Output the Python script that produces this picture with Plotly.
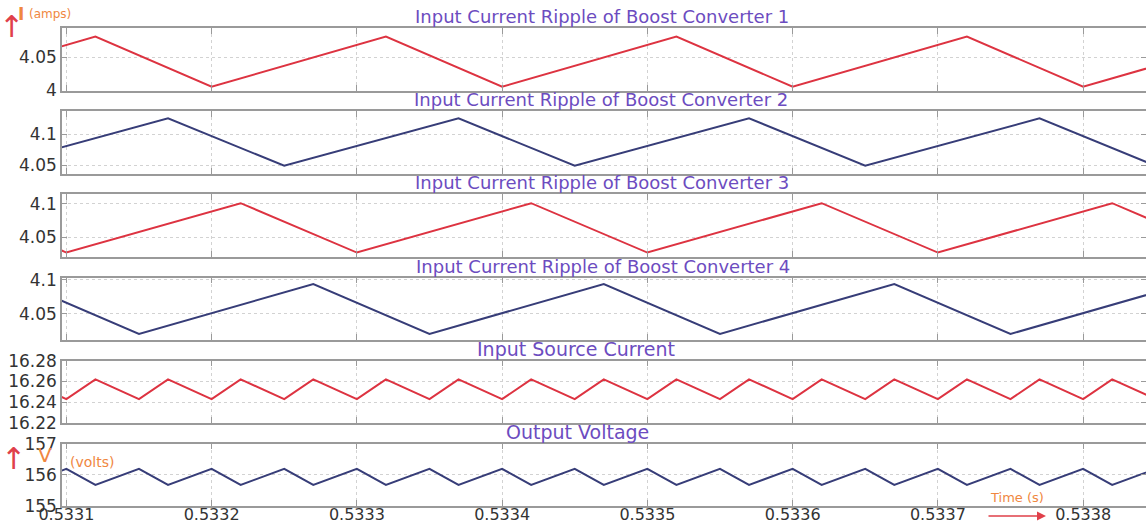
import plotly.graph_objects as go
from plotly.subplots import make_subplots

# ---------------- data ----------------
titles = [
    "Input Current Ripple of Boost Converter 1",
    "Input Current Ripple of Boost Converter 2",
    "Input Current Ripple of Boost Converter 3",
    "Input Current Ripple of Boost Converter 4",
    "Input Source Current",
    "Output Voltage",
]

# converter 1 (vertices: trough / peak)
t_c1 = [0.53300, 0.53312, 0.53320, 0.53332, 0.53340, 0.53352, 0.53360, 0.53372, 0.53380, 0.53392]
i_c1 = [4.005, 4.081, 4.005, 4.081, 4.005, 4.081, 4.005, 4.081, 4.005, 4.081]

# converter 2
t_c2 = [0.53305, 0.53317, 0.53325, 0.53337, 0.53345, 0.53357, 0.53365, 0.53377, 0.53385]
i_c2 = [4.0495, 4.125, 4.0495, 4.125, 4.0495, 4.125, 4.0495, 4.125, 4.0495]

# converter 3
t_c3 = [0.53302, 0.53310, 0.53322, 0.53330, 0.53342, 0.53350, 0.53362, 0.53370, 0.53382, 0.53390]
i_c3 = [4.101, 4.0275, 4.101, 4.0275, 4.101, 4.0275, 4.101, 4.0275, 4.101, 4.0275]

# converter 4
t_c4 = [0.53307, 0.53315, 0.53327, 0.53335, 0.53347, 0.53355, 0.53367, 0.53375, 0.53387, 0.53395]
i_c4 = [4.0935, 4.0206, 4.0935, 4.0206, 4.0935, 4.0206, 4.0935, 4.0206, 4.0935, 4.0206]

# fast ripple time vertices (source current and output voltage)
t_fast = [0.53307, 0.53310, 0.53312, 0.53315, 0.53317, 0.53320, 0.53322, 0.53325,
          0.53327, 0.53330, 0.53332, 0.53335, 0.53337, 0.53340, 0.53342, 0.53345,
          0.53347, 0.53350, 0.53352, 0.53355, 0.53357, 0.53360, 0.53362, 0.53365,
          0.53367, 0.53370, 0.53372, 0.53375, 0.53377, 0.53380, 0.53382, 0.53385,
          0.53387, 0.53390]
i_src = [16.262, 16.243, 16.262, 16.243, 16.262, 16.243, 16.262, 16.243,
         16.262, 16.243, 16.262, 16.243, 16.262, 16.243, 16.262, 16.243,
         16.262, 16.243, 16.262, 16.243, 16.262, 16.243, 16.262, 16.243,
         16.262, 16.243, 16.262, 16.243, 16.262, 16.243, 16.262, 16.243,
         16.262, 16.243]
v_out = [155.68, 156.19, 155.68, 156.19, 155.68, 156.19, 155.68, 156.19,
         155.68, 156.19, 155.68, 156.19, 155.68, 156.19, 155.68, 156.19,
         155.68, 156.19, 155.68, 156.19, 155.68, 156.19, 155.68, 156.19,
         155.68, 156.19, 155.68, 156.19, 155.68, 156.19, 155.68, 156.19,
         155.68, 156.19]

x_ticks = [0.5331, 0.5332, 0.5333, 0.5334, 0.5335, 0.5336, 0.5337, 0.5338]
x_tick_labels = ["0.5331", "0.5332", "0.5333", "0.5334", "0.5335", "0.5336", "0.5337", "0.5338"]
x_range = [0.533097, 0.5338433]

y_ticks = [[4.0, 4.05], [4.05, 4.1], [4.05, 4.1], [4.05, 4.1],
           [16.22, 16.24, 16.26, 16.28], [155, 156, 157]]
y_tick_labels = [["4", "4.05"], ["4.05", "4.1"], ["4.05", "4.1"], ["4.05", "4.1"],
                 ["16.22", "16.24", "16.26", "16.28"], ["155", "156", "157"]]
y_ranges = [[3.999, 4.0935], [4.0368, 4.136], [4.0211, 4.114], [4.0118, 4.103],
            [16.22, 16.28], [155, 157]]

series_t = [t_c1, t_c2, t_c3, t_c4, t_fast, t_fast]
series_y = [i_c1, i_c2, i_c3, i_c4, i_src, v_out]

# ---------------- styling ----------------
RED = "#dd3341"
BLUE = "#373d78"
PURPLE = "#6c4cc0"
ORANGE = "#f0873f"
ARROW_RED = "#e0404a"
AXIS = "#9a9a9a"
GRID = "#d2d2d2"
FONT = "DejaVu Sans"
TICK_FONT = dict(family=FONT, size=17, color="#333333")
colors = [RED, BLUE, RED, BLUE, RED, BLUE]
title_centers_px = [602, 601, 602, 603, 576, 577]
title_sizes = [18, 18, 18, 18, 19, 19]

W, H = 1146, 524
ML, MR, MT, MB = 62, 0, 28, 18
PW, PH = W - ML - MR, H - MT - MB


def px_x(px):
    return (px - ML) / PW


def px_y(py):
    return (H - MB - py) / PH


fig = make_subplots(rows=6, cols=1, shared_xaxes=True, vertical_spacing=0.02)

panel_tops = []
for i in range(6):
    top = 28.3 + 83.08 * i
    bot = top + 62.4
    panel_tops.append(top)
    d0 = max(0.0, px_y(bot))
    d1 = min(1.0, px_y(top))
    fig.add_trace(go.Scatter(x=series_t[i], y=series_y[i], mode="lines",
                             line=dict(color=colors[i], width=2),
                             showlegend=False, hoverinfo="skip"),
                  row=i + 1, col=1)
    yname = "yaxis" if i == 0 else f"yaxis{i + 1}"
    xname = "xaxis" if i == 0 else f"xaxis{i + 1}"
    fig.layout[yname].update(
        domain=[d0, d1], range=y_ranges[i], tickmode="array",
        tickvals=y_ticks[i], ticktext=y_tick_labels[i],
        showline=True, linecolor=AXIS, linewidth=1.5, mirror="ticks",
        ticks="inside", ticklen=5, tickcolor=AXIS,
        showgrid=True, gridcolor=GRID, griddash="dot", gridwidth=1,
        zeroline=False, tickfont=TICK_FONT, automargin=False,
    )
    fig.layout[xname].update(
        range=x_range, tickmode="array", tickvals=x_ticks, ticktext=x_tick_labels,
        showline=True, linecolor=AXIS, linewidth=1.5, mirror="ticks",
        ticks="inside", ticklen=6, tickcolor=AXIS,
        showgrid=True, gridcolor=GRID, griddash="dot", gridwidth=1,
        zeroline=False, showticklabels=(i == 5), automargin=False,
        tickfont=dict(family=FONT, size=16, color="#333333"),
        ticklabelstandoff=-7,
    )

annotations = []
for i in range(6):
    annotations.append(dict(
        text=titles[i], xref="paper", yref="paper",
        x=px_x(title_centers_px[i]), y=px_y(panel_tops[i]),
        xanchor="center", yanchor="bottom",
        yshift=-1, showarrow=False,
        font=dict(family=FONT, size=title_sizes[i], color=PURPLE)))

# unit markers
annotations += [
    dict(text="↑", xref="paper", yref="paper", x=px_x(11), y=px_y(26),
         xanchor="center", yanchor="middle", showarrow=False,
         font=dict(family=FONT, size=30, color=ARROW_RED)),
    dict(text="<b>I</b>", xref="paper", yref="paper", x=px_x(21), y=px_y(14),
         xanchor="center", yanchor="middle", showarrow=False,
         font=dict(family=FONT, size=17, color=ORANGE)),
    dict(text="(amps)", xref="paper", yref="paper", x=px_x(27), y=px_y(14),
         xanchor="left", yanchor="middle", showarrow=False,
         font=dict(family=FONT, size=12, color=ORANGE)),
    dict(text="↑", xref="paper", yref="paper", x=px_x(13), y=px_y(459),
         xanchor="center", yanchor="middle", showarrow=False,
         font=dict(family=FONT, size=30, color=ARROW_RED)),
    dict(text="V", xref="paper", yref="paper", x=px_x(45), y=px_y(455),
         xanchor="center", yanchor="middle", showarrow=False,
         font=dict(family=FONT, size=20, color=ORANGE)),
    dict(text="(volts)", xref="paper", yref="paper", x=px_x(68), y=px_y(462),
         xanchor="left", yanchor="middle", showarrow=False,
         font=dict(family=FONT, size=14, color=ORANGE)),
    dict(text="Time (s)", xref="paper", yref="paper", x=px_x(1017), y=px_y(497),
         xanchor="center", yanchor="middle", showarrow=False,
         font=dict(family=FONT, size=13, color=ORANGE)),
    dict(text="", xref="paper", yref="paper", x=px_x(1046), y=px_y(516),
         ax=-59, ay=0, axref="pixel", ayref="pixel",
         showarrow=True, arrowhead=2, arrowsize=1.2, arrowwidth=1.5,
         arrowcolor=ARROW_RED),
]

fig.update_layout(
    width=W, height=H,
    margin=dict(l=ML, r=MR, t=MT, b=MB, pad=0, autoexpand=False),
    paper_bgcolor="white", plot_bgcolor="white",
    annotations=annotations,
    font=dict(family=FONT),
)

fig.write_html("out.html", config={"displayModeBar": False},
               post_script="document.body.style.margin='0';document.body.style.overflow='hidden';")
